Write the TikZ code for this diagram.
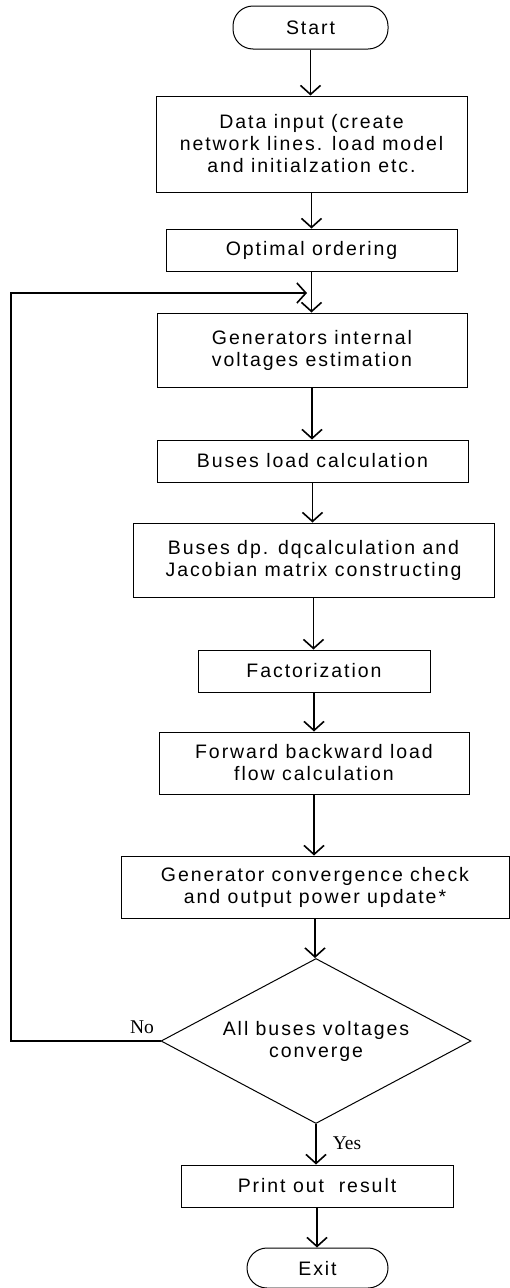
\documentclass[tikz,border=0pt]{standalone}
\usepackage{fontspec}
\setmainfont{Liberation Sans}[LetterSpace=10]
\newfontfamily\lblfont{Liberation Serif}
\usetikzlibrary{arrows.meta,shapes.geometric}
\begin{document}
\begin{tikzpicture}[x=1pt,y=1pt,
  box/.style={draw, line width=1pt, inner sep=0pt, align=center,
    font=\fontsize{19.5}{22}\selectfont},
  term/.style={box, rounded corners=20pt},
  arr/.style={line width=1.6pt, -{Straight Barb[length=9pt,width=20pt]}},
  lbl/.style={font=\lblfont\fontsize{19.5}{22}\selectfont, inner sep=0pt}]
\useasboundingbox (0,0) rectangle (510,-1288);

\node[term, minimum width=155pt, minimum height=43pt] (start) at (310.5,-27.5) {Start};
\node[box, minimum width=311pt, minimum height=96pt] (data) at (311.5,-144)
  {Data input (create\\network lines. load model\\and initialzation etc.};
\node[box, minimum width=291pt, minimum height=42pt] (opt) at (311.5,-250) {Optimal ordering};
\node[box, minimum width=310pt, minimum height=74pt] (gen) at (312,-350)
  {Generators internal\\voltages estimation};
\node[box, minimum width=311pt, minimum height=42pt] (load) at (312.5,-461) {Buses load calculation};
\node[box, minimum width=361pt, minimum height=74pt] (dp) at (313.5,-560)
  {Buses dp. dqcalculation and\\Jacobian matrix constructing};
\node[box, minimum width=232pt, minimum height=42pt] (fact) at (314,-671) {Factorization};
\node[box, minimum width=310pt, minimum height=62pt] (fwd) at (314,-763)
  {Forward backward load\\flow calculation};
\node[box, minimum width=388pt, minimum height=62pt] (conv) at (315,-887)
  {Generator convergence check\\and output power update*};
\node[box, diamond, aspect=1.9, minimum width=310pt, minimum height=165pt] (dec) at (316,-1041)
  {All buses voltages\\converge};
\node[box, minimum width=272pt, minimum height=42pt] (print) at (317,-1186) {Print out\ \ result};
\node[term, minimum width=141pt, minimum height=40pt] (exit) at (317.5,-1268) {Exit};

\coordinate (leftx) at (11,0);
\coordinate (fbend) at (307,-293);

\draw[arr] (start.south) -- (start.south |- data.north);
\draw[arr] (data.south) -- (data.south |- opt.north);
\draw[arr] (opt.south) -- (opt.south |- gen.north);
\draw[arr] (gen.south) -- (gen.south |- load.north);
\draw[arr] (load.south) -- (load.south |- dp.north);
\draw[arr] (dp.south) -- (dp.south |- fact.north);
\draw[arr] (fact.south) -- (fact.south |- fwd.north);
\draw[arr] (fwd.south) -- (fwd.south |- conv.north);
\draw[arr] (conv.south) -- (conv.south |- dec.north);
\draw[arr] (dec.south) -- (dec.south |- print.north);
\draw[arr] (print.south) -- (print.south |- exit.north);
\draw[arr] (dec.west) -- (dec.west -| leftx) |- (fbend);

\node[lbl] (no) at (142,-1027) {No};
\node[lbl] (yes) at (347,-1143) {Yes};
\end{tikzpicture}
\end{document}
